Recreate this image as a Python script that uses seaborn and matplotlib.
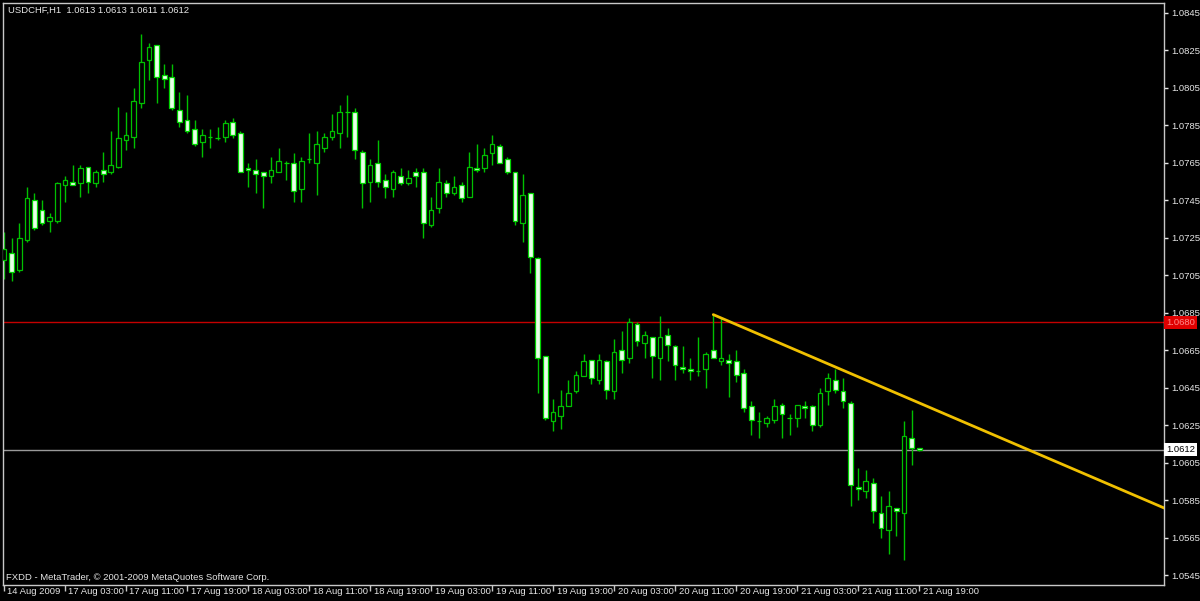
import matplotlib
matplotlib.use("Agg")
import matplotlib.pyplot as plt
import matplotlib.transforms as mtransforms
import numpy as np
import pandas as pd
import seaborn as sns

# ---------------- data ----------------
chart_title = "USDCHF,H1  1.0613 1.0613 1.0611 1.0612"
copyright_text = "FXDD - MetaTrader, \u00a9 2001-2009 MetaQuotes Software Corp."

opens = [
    1.0713, 1.0717, 1.0708, 1.0724, 1.0745, 1.0740, 1.0734, 1.0734, 1.0753, 1.0755,
    1.0754, 1.0763, 1.0754, 1.0761, 1.0760, 1.0763, 1.0777, 1.0779, 1.0797, 1.0820,
    1.0828, 1.0812, 1.0811, 1.0793, 1.0788, 1.0783, 1.0776, 1.0779, 1.0778, 1.0779,
    1.0787, 1.0781, 1.0762, 1.0761, 1.0760, 1.0758, 1.0760, 1.0765, 1.0765, 1.0751,
    1.0767, 1.0765, 1.0773, 1.0779, 1.0781, 1.0792, 1.0792, 1.0771, 1.0755, 1.0765,
    1.0756, 1.0751, 1.0758, 1.0754, 1.0760, 1.0760, 1.0732, 1.0741, 1.0754, 1.0749,
    1.0753, 1.0747, 1.0762, 1.0762, 1.0770, 1.0774, 1.0767, 1.0760, 1.0733, 1.0749,
    1.0714, 1.0662, 1.0627, 1.0630, 1.0635, 1.0643, 1.0651, 1.0660, 1.0649, 1.0659,
    1.0643, 1.0665, 1.0661, 1.0679, 1.0669, 1.0672, 1.0661, 1.0673, 1.0667, 1.0656,
    1.0655, 1.0654, 1.0655, 1.0665, 1.0659, 1.0660, 1.0659, 1.0653, 1.0635, 1.0627,
    1.0626, 1.0628, 1.0636, 1.0629, 1.0629, 1.0635, 1.0635, 1.0625, 1.0643, 1.0649,
    1.0643, 1.0637, 1.0592, 1.0590, 1.0594, 1.0578, 1.0569, 1.0581, 1.0578, 1.0618,
    1.0613,
]
highs = [
    1.0728, 1.0725, 1.0733, 1.0752, 1.0749, 1.0745, 1.0738, 1.0755, 1.0758, 1.0764,
    1.0764, 1.0763, 1.0761, 1.0771, 1.0782, 1.0795, 1.0792, 1.0805, 1.0834, 1.0829,
    1.0828, 1.0818, 1.0818, 1.0803, 1.0801, 1.0788, 1.0783, 1.0783, 1.0784, 1.0788,
    1.0789, 1.0782, 1.0765, 1.0767, 1.0760, 1.0768, 1.0773, 1.0766, 1.0770, 1.0768,
    1.0781, 1.0782, 1.0781, 1.0791, 1.0796, 1.0801, 1.0794, 1.0772, 1.0767, 1.0777,
    1.0759, 1.0761, 1.0762, 1.0761, 1.0762, 1.0762, 1.0747, 1.0762, 1.0756, 1.0758,
    1.0755, 1.0771, 1.0775, 1.0773, 1.0780, 1.0775, 1.0768, 1.0760, 1.0759, 1.0749,
    1.0715, 1.0662, 1.0639, 1.0644, 1.0649, 1.0654, 1.0663, 1.0660, 1.0663, 1.0660,
    1.0671, 1.0675, 1.0682, 1.0680, 1.0675, 1.0672, 1.0683, 1.0677, 1.0668, 1.0667,
    1.0661, 1.0672, 1.0664, 1.0684, 1.0682, 1.0663, 1.0665, 1.0655, 1.0638, 1.0632,
    1.0630, 1.0639, 1.0637, 1.0631, 1.0636, 1.0638, 1.0636, 1.0645, 1.0653, 1.0655,
    1.0650, 1.0638, 1.0602, 1.0601, 1.0597, 1.0587, 1.0590, 1.0581, 1.0627, 1.0633,
    1.0613,
]
lows = [
    1.0703, 1.0702, 1.0707, 1.0723, 1.0729, 1.0732, 1.0728, 1.0733, 1.0744, 1.0753,
    1.0747, 1.0749, 1.0752, 1.0755, 1.0759, 1.0762, 1.0772, 1.0773, 1.0794, 1.0809,
    1.0797, 1.0805, 1.0793, 1.0784, 1.0781, 1.0774, 1.0768, 1.0773, 1.0777, 1.0776,
    1.0778, 1.0760, 1.0752, 1.0749, 1.0741, 1.0754, 1.0760, 1.0756, 1.0744, 1.0744,
    1.0765, 1.0748, 1.0771, 1.0777, 1.0773, 1.0779, 1.0767, 1.0741, 1.0744, 1.0752,
    1.0746, 1.0747, 1.0753, 1.0753, 1.0752, 1.0725, 1.0731, 1.0738, 1.0747, 1.0748,
    1.0744, 1.0747, 1.0760, 1.0760, 1.0764, 1.0765, 1.0759, 1.0732, 1.0723, 1.0706,
    1.0642, 1.0628, 1.0622, 1.0623, 1.0635, 1.0642, 1.0651, 1.0647, 1.0647, 1.0639,
    1.0639, 1.0653, 1.0658, 1.0667, 1.0661, 1.0650, 1.0649, 1.0659, 1.0649, 1.0653,
    1.0649, 1.0651, 1.0645, 1.0661, 1.0657, 1.0640, 1.0648, 1.0632, 1.0620, 1.0618,
    1.0624, 1.0626, 1.0618, 1.0620, 1.0624, 1.0629, 1.0622, 1.0624, 1.0636, 1.0642,
    1.0634, 1.0582, 1.0585, 1.0586, 1.0573, 1.0565, 1.0556, 1.0566, 1.0553, 1.0604,
    1.0611,
]
closes = [
    1.0719, 1.0707, 1.0725, 1.0746, 1.0730, 1.0733, 1.0736, 1.0754, 1.0756, 1.0753,
    1.0762, 1.0755, 1.0760, 1.0759, 1.0764, 1.0778, 1.0780, 1.0798, 1.0819, 1.0827,
    1.0811, 1.0810, 1.0794, 1.0787, 1.0782, 1.0775, 1.0780, 1.0779, 1.0778, 1.0786,
    1.0780, 1.0760, 1.0761, 1.0759, 1.0758, 1.0761, 1.0766, 1.0765, 1.0750, 1.0766,
    1.0767, 1.0775, 1.0779, 1.0782, 1.0792, 1.0792, 1.0772, 1.0754, 1.0764, 1.0755,
    1.0752, 1.0760, 1.0754, 1.0757, 1.0758, 1.0733, 1.0740, 1.0755, 1.0749, 1.0752,
    1.0746, 1.0763, 1.0761, 1.0769, 1.0775, 1.0765, 1.0760, 1.0734, 1.0748, 1.0715,
    1.0661, 1.0629, 1.0632, 1.0635, 1.0642, 1.0652, 1.0659, 1.0650, 1.0660, 1.0644,
    1.0664, 1.0660, 1.0680, 1.0670, 1.0673, 1.0662, 1.0672, 1.0668, 1.0657, 1.0655,
    1.0654, 1.0654, 1.0663, 1.0661, 1.0661, 1.0658, 1.0652, 1.0634, 1.0628, 1.0627,
    1.0629, 1.0635, 1.0631, 1.0629, 1.0636, 1.0634, 1.0625, 1.0642, 1.0650, 1.0644,
    1.0638, 1.0593, 1.0591, 1.0595, 1.0579, 1.0570, 1.0582, 1.0579, 1.0619, 1.0613,
    1.0612,
]

date_labels = [
    "14 Aug 2009", "17 Aug 03:00", "17 Aug 11:00", "17 Aug 19:00", "18 Aug 03:00",
    "18 Aug 11:00", "18 Aug 19:00", "19 Aug 03:00", "19 Aug 11:00", "19 Aug 19:00",
    "20 Aug 03:00", "20 Aug 11:00", "20 Aug 19:00", "21 Aug 03:00", "21 Aug 11:00",
    "21 Aug 19:00",
]
price_ticks = [1.0545, 1.0565, 1.0585, 1.0605, 1.0625, 1.0645, 1.0665, 1.0685,
               1.0705, 1.0725, 1.0745, 1.0765, 1.0785, 1.0805, 1.0825, 1.0845]

resistance_level = 1.0680
bid_price = 1.0612
trend_bars = [93, 152]
trend_prices = [1.0684, 1.0581]

# ---------------- style ----------------
sns.set_theme(style="dark", rc={
    "axes.facecolor": "black",
    "figure.facecolor": "black",
    "axes.edgecolor": "#c8c8c8",
    "text.color": "#e6e6e6",
    "xtick.color": "#c8c8c8",
    "ytick.color": "#e6e6e6",
    "axes.grid": False,
})
plt.rcParams["font.family"] = ["Liberation Sans", "DejaVu Sans"]
FS = 6.8

W, H = 1200, 601
fig = plt.figure(figsize=(W / 100, H / 100), dpi=100)
ax = fig.add_axes([3 / W, 16 / H, 1161 / W, 582 / H])
ax.set_facecolor("black")

df = pd.DataFrame({"open": opens, "high": highs, "low": lows, "close": closes})
df["bar"] = np.arange(len(df))
df["bull"] = df["close"] > df["open"]
df["bottom"] = df[["open", "close"]].min(axis=1)
df["height"] = (df["close"] - df["open"]).abs()

green = "#00c000"
# wicks
ax.vlines(df["bar"], df["low"], df["high"], color=green, linewidth=1.0, zorder=2)
# bodies
body_w = 0.62
bull = df[df["bull"]]
bear = df[~df["bull"]]
ax.bar(bull["bar"], bull["height"], bottom=bull["bottom"], width=body_w,
       facecolor="black", edgecolor=green, linewidth=0.9, zorder=3)
ax.bar(bear["bar"], bear["height"], bottom=bear["bottom"], width=body_w,
       facecolor="#eaffea", edgecolor="#00d400", linewidth=0.9, zorder=3)

# horizontal lines
ax.axhline(resistance_level, color="#c40000", linewidth=1.0, zorder=1)
ax.axhline(bid_price, color="#9a9a9a", linewidth=1.0, zorder=1)

# trend line (ray to the right)
slope = (trend_prices[1] - trend_prices[0]) / (trend_bars[1] - trend_bars[0])
ray_x = [trend_bars[0], 170]
ray_y = [trend_prices[0], trend_prices[0] + slope * (170 - trend_bars[0])]
sns.lineplot(x=ray_x, y=ray_y, ax=ax, color="#f0c000", linewidth=2.0, zorder=4,
             legend=False)

# limits
ax.set_xlim(-0.13, 152.1)
ax.set_ylim(1.05397, 1.08503)

for s in ax.spines.values():
    s.set_color("#c8c8c8")
    s.set_linewidth(1.0)

# y axis on right
ax.yaxis.tick_right()
ax.set_yticks(price_ticks)
ax.set_yticklabels([f"{p:.4f}" for p in price_ticks])
ax.tick_params(axis="y", which="both", right=True, left=False, length=3, width=1,
               pad=2, labelsize=FS, colors="#e6e6e6")
ax.set_ylabel("")

# x ticks
tick_bars = list(range(0, len(df), 8))
ax.set_xticks(tick_bars)
ax.set_xticklabels([])
ax.tick_params(axis="x", which="both", bottom=True, length=4, width=1, colors="#c8c8c8")
ax.set_xlabel("")
for b, lab in zip(tick_bars, date_labels):
    ax.annotate(lab, xy=(b, 0), xycoords=("data", "axes fraction"),
                xytext=(2.5, -1.5), textcoords="offset points",
                ha="left", va="top", fontsize=FS, color="#e6e6e6",
                annotation_clip=False)

# price boxes on the axis
blend = mtransforms.blended_transform_factory(ax.transAxes, ax.transData)
ax.text(1.0 + 2 / 1161, resistance_level, f"{resistance_level:.4f}", transform=blend,
        ha="left", va="center", fontsize=FS, color="#ff8a8a", clip_on=False,
        bbox=dict(facecolor="#e00000", edgecolor="none", pad=1.5), zorder=6)
ax.text(1.0 + 2 / 1161, bid_price, f"{bid_price:.4f}", transform=blend,
        ha="left", va="center", fontsize=FS, color="black", clip_on=False,
        bbox=dict(facecolor="white", edgecolor="none", pad=1.5), zorder=6)

# texts inside chart
ax.text(5 / 1161, 1 - 7 / 582, chart_title, transform=ax.transAxes,
        ha="left", va="center", fontsize=FS, color="#e6e6e6")
ax.text(3 / 1161, 8 / 582, copyright_text, transform=ax.transAxes,
        ha="left", va="center", fontsize=FS, color="#e6e6e6")

fig.savefig("out.png", dpi=100, facecolor="black")
